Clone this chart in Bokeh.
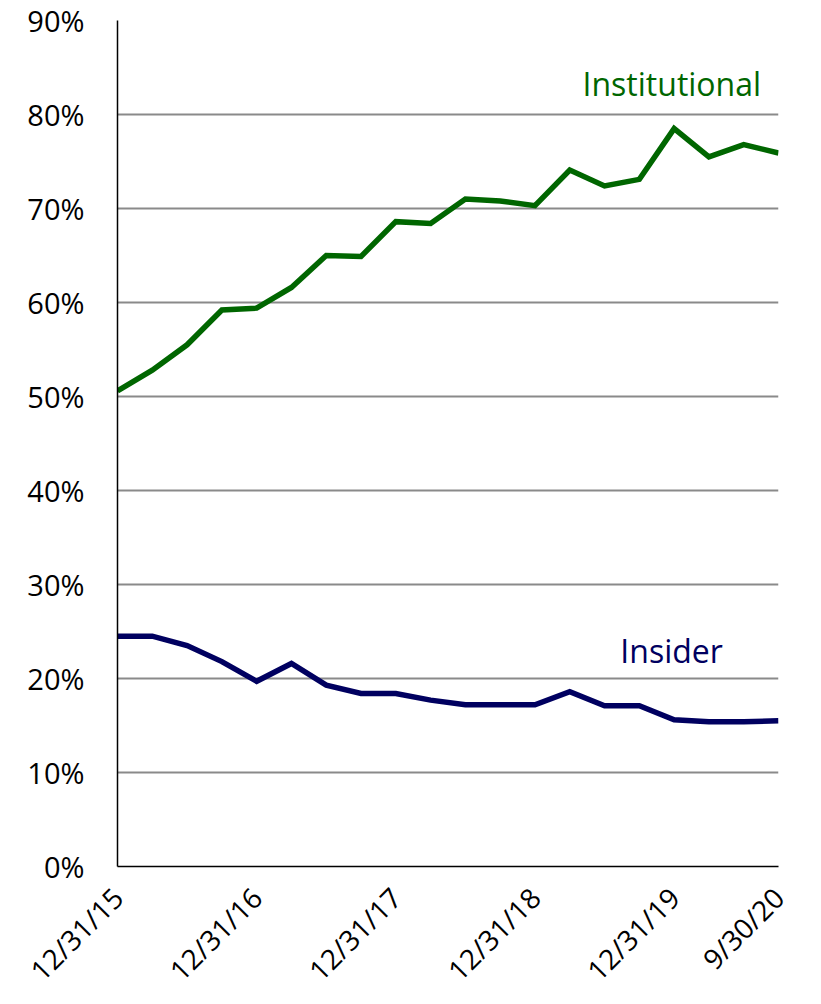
import math
from bokeh.plotting import figure
from bokeh.models import Range1d, FixedTicker, PrintfTickFormatter, Label
from bokeh.embed import file_html
from bokeh.resources import INLINE

quarters = ["12/31/15", "3/31/16", "6/30/16", "9/30/16", "12/31/16",
            "3/31/17", "6/30/17", "9/30/17", "12/31/17",
            "3/31/18", "6/30/18", "9/30/18", "12/31/18",
            "3/31/19", "6/30/19", "9/30/19", "12/31/19",
            "3/31/20", "6/30/20", "9/30/20"]
institutional = [50.6, 52.8, 55.5, 59.2, 59.4, 61.6, 65.0, 64.9, 68.6, 68.4,
                 71.0, 70.8, 70.3, 74.1, 72.4, 73.1, 78.5, 75.5, 76.8, 75.9]
insider = [24.5, 24.5, 23.5, 21.8, 19.7, 21.6, 19.3, 18.4, 18.4, 17.7,
           17.2, 17.2, 17.2, 18.6, 17.1, 17.1, 15.6, 15.4, 15.4, 15.5]
label_quarters = ["12/31/15", "12/31/16", "12/31/17", "12/31/18", "12/31/19", "9/30/20"]
y_ticks = [0, 10, 20, 30, 40, 50, 60, 70, 80, 90]

GREEN = "#006600"
NAVY = "#000060"
FONT = "Open Sans"

x = list(range(len(quarters)))

p = figure(frame_width=661, frame_height=846, output_backend="svg", toolbar_location=None,
           x_range=Range1d(0, len(quarters) - 1), y_range=Range1d(0, 90),
           min_border_left=117, min_border_right=35, min_border_top=20, min_border_bottom=60)
p.outline_line_color = None
p.background_fill_color = "white"
p.border_fill_color = "white"

p.line(x, institutional, line_color=GREEN, line_width=5.5, line_join="miter")
p.line(x, insider, line_color=NAVY, line_width=5.5, line_join="miter")

p.xgrid.grid_line_color = None
p.ygrid.grid_line_color = "#8a8a8a"
p.ygrid.grid_line_width = 2
p.yaxis.ticker = FixedTicker(ticks=y_ticks)
p.yaxis.formatter = PrintfTickFormatter(format="%d%%")
tick_idx = [quarters.index(q) for q in label_quarters]
p.xaxis.ticker = FixedTicker(ticks=tick_idx)
p.xaxis.major_label_overrides = {i: q for i, q in zip(tick_idx, label_quarters)}
p.xaxis.major_label_orientation = math.pi / 4
for ax in (p.xaxis[0], p.yaxis[0]):
    ax.axis_line_color = "black"
    ax.axis_line_width = 1.5
    ax.major_tick_line_color = None
    ax.minor_tick_line_color = None
    ax.major_tick_out = 0
    ax.major_tick_in = 0
    ax.minor_tick_out = 0
    ax.minor_tick_in = 0
    ax.major_label_text_font = FONT
    ax.major_label_text_color = "black"
p.yaxis.major_label_text_font_size = "29px"
p.xaxis.major_label_text_font_size = "28px"
p.yaxis.major_label_standoff = 33
p.xaxis.major_label_standoff = 26

p.add_layout(Label(x=18.5, y=83.3, text="Institutional", text_align="right",
                   text_baseline="alphabetic", text_font=FONT, text_font_size="32px",
                   text_color=GREEN))
p.add_layout(Label(x=17.4, y=23.0, text="Insider", text_align="right",
                   text_baseline="alphabetic", text_font=FONT, text_font_size="32px",
                   text_color=NAVY))

open("out.html", "w").write(file_html(p, INLINE))
